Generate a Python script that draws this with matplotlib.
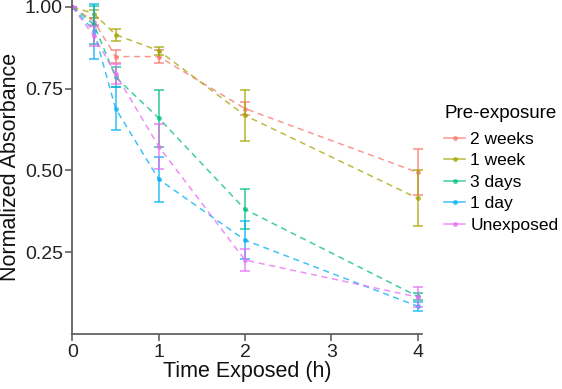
import numpy as np
import matplotlib
matplotlib.use("Agg")
import matplotlib.pyplot as plt
import matplotlib.lines as mlines

plt.rcParams['font.family'] = ['Liberation Sans', 'DejaVu Sans']

time_h = [0, 0.25, 0.5, 1, 2, 4]
groups = ['2 weeks', '1 week', '3 days', '1 day', 'Unexposed']
colors = ['#F8766D', '#A3A500', '#00BF7D', '#00B0F6', '#E76BF3']

# mean normalized absorbance per group
two_weeks = [1.00, 0.955, 0.848, 0.848, 0.689, 0.494]
one_week = [1.00, 0.979, 0.915, 0.866, 0.668, 0.415]
three_days = [1.00, 0.945, 0.785, 0.660, 0.381, 0.115]
one_day = [1.00, 0.925, 0.689, 0.473, 0.287, 0.085]
unexposed = [1.00, 0.910, 0.795, 0.573, 0.226, 0.113]

# error bar half-widths
two_weeks_err = [0.0, 0.01, 0.02, 0.02, 0.02, 0.07]
one_week_err = [0.0, 0.012, 0.018, 0.012, 0.077, 0.086]
three_days_err = [0.0, 0.058, 0.03, 0.087, 0.061, 0.01]
one_day_err = [0.0, 0.085, 0.065, 0.068, 0.058, 0.014]
unexposed_err = [0.0, 0.03, 0.03, 0.07, 0.033, 0.03]

means = [two_weeks, one_week, three_days, one_day, unexposed]
errs = [two_weeks_err, one_week_err, three_days_err, one_day_err, unexposed_err]

fig = plt.figure(figsize=(5.62, 3.89), dpi=100)
ax = fig.add_axes([0.129, 0.1414, 0.621, 0.8586])

for k in range(len(groups)):
    ax.errorbar(time_h, means[k], yerr=errs[k], color=colors[k], alpha=0.75,
                fmt='none', elinewidth=1.2, capsize=3.6, capthick=1.2)
    ax.plot(time_h, means[k], color=colors[k], alpha=0.75, linestyle=(0, (4, 3)),
            linewidth=1.1, marker='o', markersize=3.5, markeredgewidth=0)

ax.set_xlim(0, 4.046)
ax.set_ylim(0, 1.021)
ax.set_xticks([0, 1, 2, 3, 4])
ax.set_yticks([0.25, 0.50, 0.75, 1.00])
ax.set_yticklabels(['0.25', '0.50', '0.75', '1.00'])
for s in ['top', 'right']:
    ax.spines[s].set_visible(False)
for s in ['left', 'bottom']:
    ax.spines[s].set_color('#555555')
    ax.spines[s].set_linewidth(1.2)
ax.tick_params(axis='both', colors='#555555', labelcolor='#222222',
               labelsize=14, length=5, width=1.1, pad=2)
ax.set_xlabel('Time Exposed (h)', fontsize=15.5, labelpad=0, color='#111111')
ax.set_ylabel('Normalized Absorbance', fontsize=15.5, labelpad=3, color='#111111')

handles_ = [mlines.Line2D([], [], color=colors[k], alpha=0.75, marker='o',
                          markersize=3.5, markeredgewidth=0, linewidth=1.1,
                          label=groups[k]) for k in range(len(groups))]
leg = fig.legend(handles=handles_, title='Pre-exposure', loc='upper left',
                 bbox_to_anchor=(0.775, 0.753), frameon=False, fontsize=12.5,
                 title_fontsize=13.5, handlelength=1.2, handletextpad=0.3,
                 labelspacing=0.37, borderpad=0, alignment='left')
leg._legend_box.sep = 7

plt.savefig('out.png', dpi=100)
